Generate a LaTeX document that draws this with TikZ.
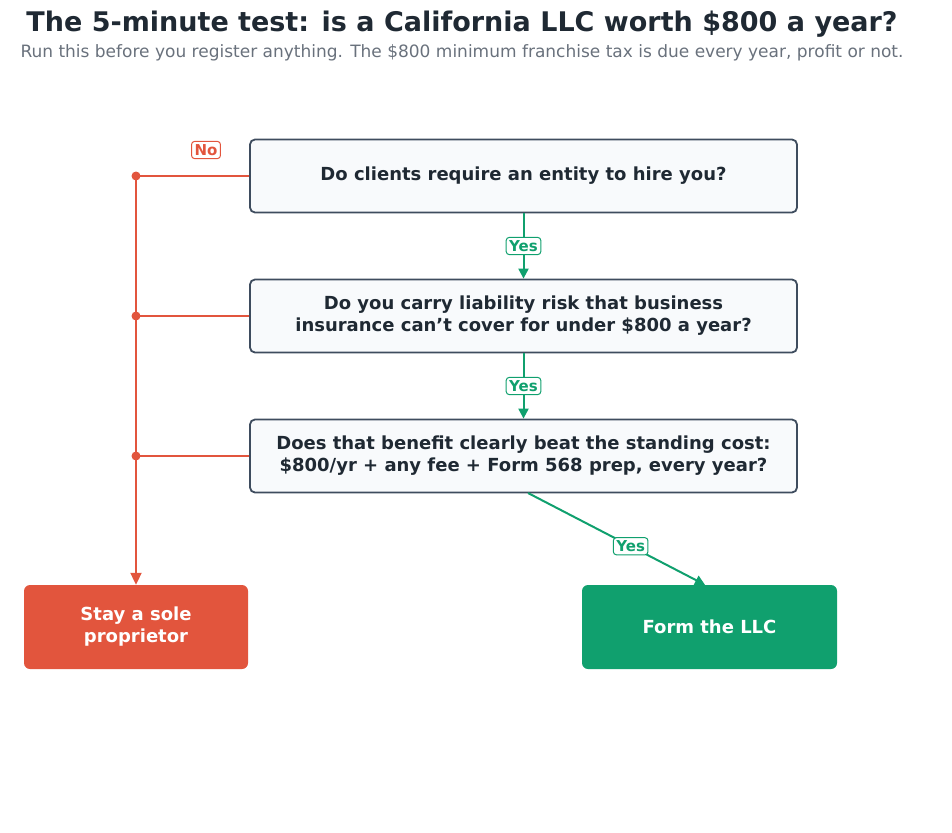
\documentclass[tikz,border=0pt]{standalone}
\usepackage{fontspec}
\setmainfont{DejaVu Sans}
\usetikzlibrary{arrows.meta}
\definecolor{ink}{HTML}{1F2933}
\definecolor{edge}{HTML}{3E4C5E}
\definecolor{boxfill}{HTML}{F8FAFC}
\definecolor{red}{HTML}{E2553D}
\definecolor{grn}{HTML}{10A06E}
\definecolor{sub}{HTML}{69717C}
\begin{document}
\begin{tikzpicture}[x=1pt,y=-1pt,
 qbox/.style={draw=edge,line width=1.8pt,fill=boxfill,rounded corners=5pt,minimum width=547pt,minimum height=73pt,font=\fontsize{18}{22}\selectfont\bfseries,text=ink,align=center},
 endbox/.style={rounded corners=6pt,minimum height=84pt,font=\fontsize{18}{22}\selectfont\bfseries,text=white,align=center},
 lab/.style={draw=#1,fill=white,text=#1,rounded corners=3pt,line width=1pt,inner sep=3pt,font=\fontsize{15}{18}\selectfont\bfseries},
 gl/.style={draw=grn,line width=2pt,-{Triangle[length=10pt,width=10pt]}},
 rl/.style={draw=red,line width=2pt}]
\useasboundingbox (0,0) rectangle (952,832);
\node[font=\fontsize{27}{32}\selectfont\bfseries,text=ink] (t) at (462,24) {The 5-minute test: is a California LLC worth \$800 a year?};
\node[font=\fontsize{17}{20}\selectfont,text=sub] (s) at (462,53) {Run this before you register anything. The \$800 minimum franchise tax is due every year, profit or not.};
\node[qbox] (q1) at (523.5,176) {Do clients require an entity to hire you?};
\node[qbox] (q2) at (523.5,316) {Do you carry liability risk that business\\insurance can't cover for under \$800 a year?};
\node[qbox] (q3) at (523.5,456) {Does that benefit clearly beat the standing cost:\\\$800/yr + any fee + Form 568 prep, every year?};
\node[endbox,fill=red,minimum width=224pt] (no) at (136,627) {Stay a sole\\proprietor};
\node[endbox,fill=grn,minimum width=255pt] (yes) at (709.5,627) {Form the LLC};
\coordinate (d1) at (136,176);
\coordinate (d2) at (136,316);
\coordinate (d3) at (136,456);
\draw[rl] (q1.west) -- (d1);
\draw[rl] (q2.west) -- (d2);
\draw[rl] (q3.west) -- (d3);
\draw[rl,-{Triangle[length=12pt,width=11pt]}] (d1) -- (no.north);
\foreach \d in {d1,d2,d3} \fill[red] (\d) circle (4.5pt);
\node[lab=red] (ln) at (206,150) {No};
\draw[gl] (q1.south) -- node[lab=grn] (y1) {Yes} (q2.north);
\draw[gl] (q2.south) -- node[lab=grn] (y2) {Yes} (q3.north);
\coordinate (s3) at (528,493);
\draw[gl] (s3) -- node[lab=grn,pos=0.58] (y3) {Yes} (yes.north-|705,0);
\end{tikzpicture}
\end{document}
